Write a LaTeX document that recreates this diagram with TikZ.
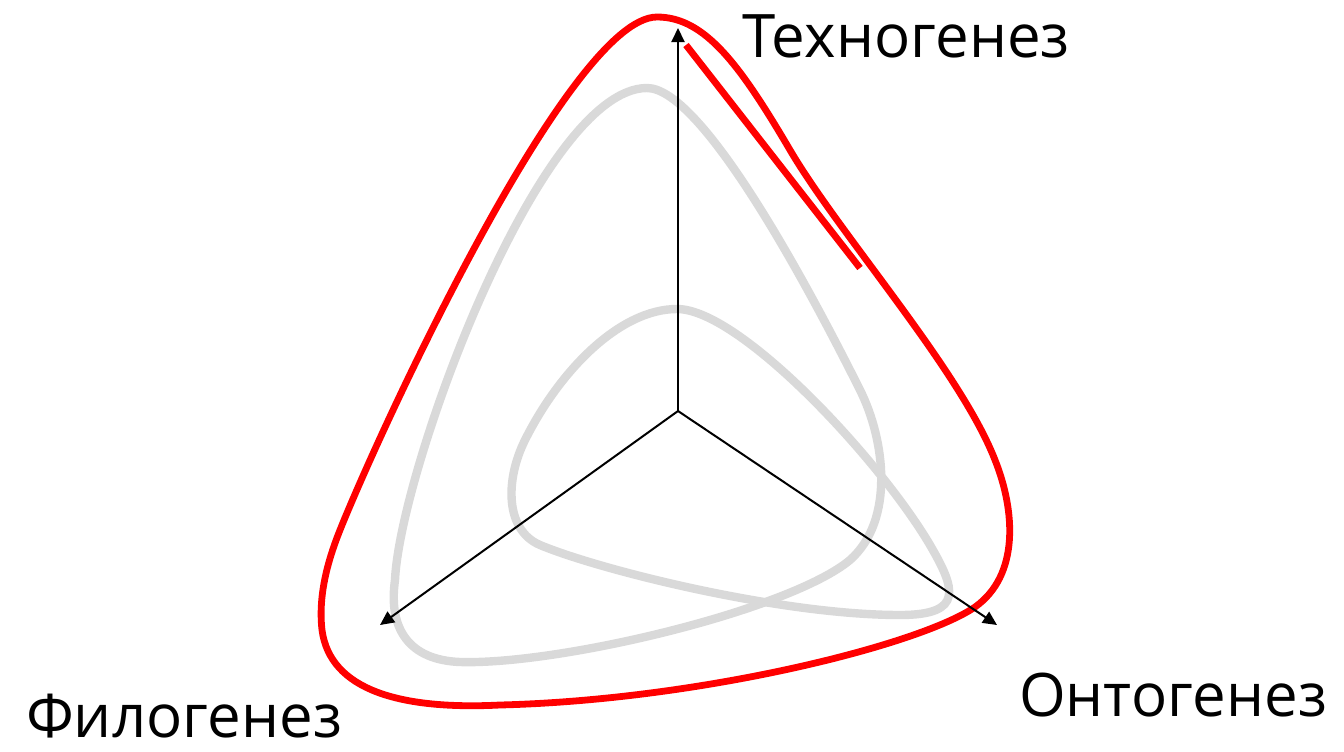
\documentclass[tikz,border=0pt]{standalone}
\usepackage{fontspec}
\setmainfont{Open Sans}
\usepackage{xcolor}
\usetikzlibrary{arrows.meta}
\definecolor{loopred}{HTML}{FF0000}
\definecolor{loopgray}{HTML}{D9D9D9}
\definecolor{textmain}{HTML}{000000}

\begin{document}
\begin{tikzpicture}[
    x=0.5pt, y=-0.5pt,
    axis/.style={-{Triangle[length=7pt, width=6.5pt]}, line width=1pt, black},
    redloop/.style={draw=loopred, line width=3.4pt},
    grayloop/.style={draw=loopgray, line width=4.2pt},
    axislabel/.style={font=\fontsize{30}{36}\selectfont, text=textmain,
                      anchor=base, inner sep=0pt}
  ]
    \useasboundingbox (0,0) rectangle (1344,751);

    % gray loops
    \draw[grayloop] (647,88) .. controls (700,88) and (800,270) .. (860,390)
      .. controls (885,440) and (895,520) .. (850,560)
      .. controls (790,610) and (560,665) .. (460,662)
      .. controls (410,660) and (388,630) .. (395,580)
      .. controls (400,470) and (540,88) .. (647,88) -- cycle;
    \draw[grayloop] (677,309) .. controls (740,309) and (880,460) .. (930,545)
      .. controls (955,588) and (965,615) .. (900,615)
      .. controls (780,615) and (600,570) .. (540,545)
      .. controls (505,530) and (505,480) .. (525,440)
      .. controls (560,370) and (620,309) .. (677,309) -- cycle;

    % red loop
    \draw[redloop] (657,17) .. controls (705,17) and (740,65) .. (790,150)
      .. controls (840,235) and (960,370) .. (995,460)
      .. controls (1015,510) and (1020,575) .. (975,607)
      .. controls (920,645) and (700,700) .. (500,705)
      .. controls (400,710) and (330,690) .. (322,630)
      .. controls (318,595) and (328,560) .. (340,530)
      .. controls (380,430) and (570,17) .. (657,17) -- cycle;
    \coordinate (r1) at (686,45);
    \coordinate (r2) at (860,268);
    \draw[redloop] (r1) -- (r2);

    % axes
    \coordinate (o) at (678,411);
    \coordinate (tech) at (678,28);
    \coordinate (onto) at (997,625);
    \coordinate (filo) at (380,625);
    \draw[axis] (o) -- (tech);
    \draw[axis] (o) -- (onto);
    \draw[axis] (o) -- (filo);

    \node[axislabel] (techlabel) at (906,57) {Техногенез};
    \node[axislabel] (ontolabel) at (1173,716) {Онтогенез};
    \node[axislabel] (filolabel) at (184,737) {Филогенез};
  \end{tikzpicture}
\end{document}
